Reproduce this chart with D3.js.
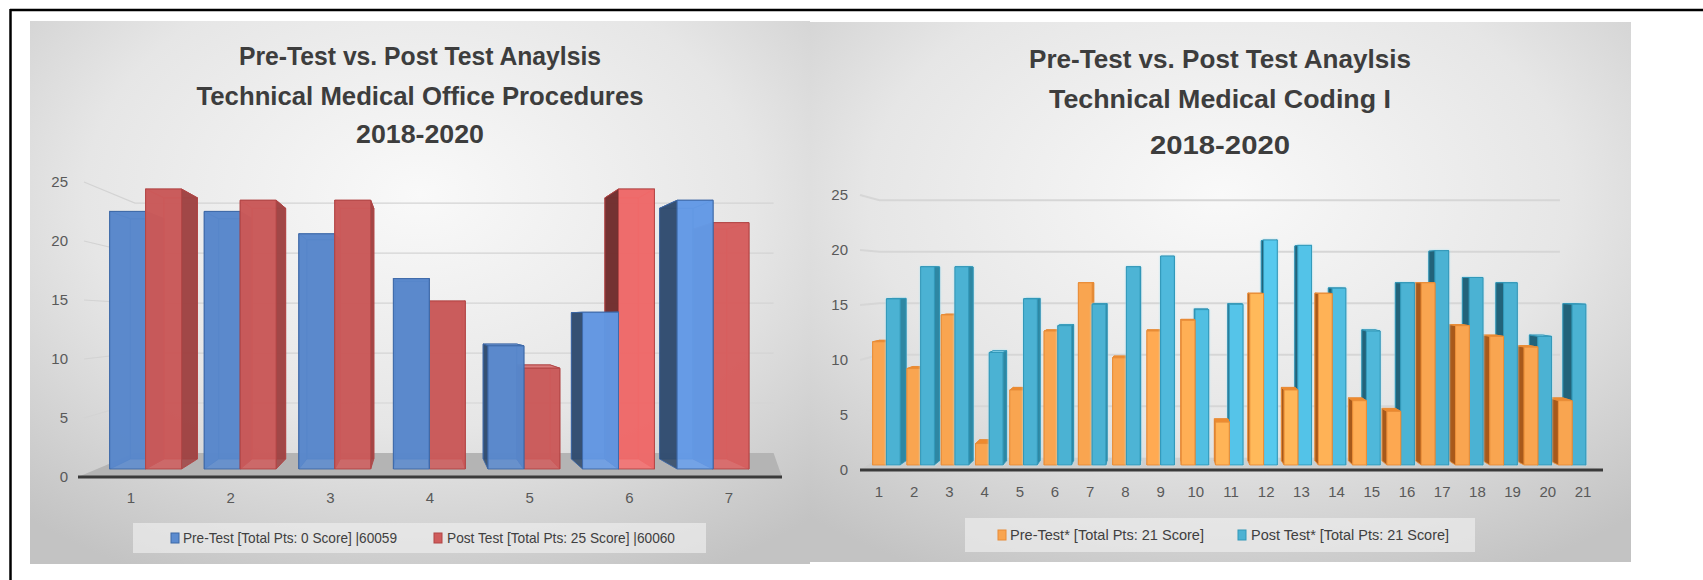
<!DOCTYPE html>
<html>
<head>
<meta charset="utf-8">
<script src="https://cdn.jsdelivr.net/npm/d3@7"></script>
<style>
html, body { margin: 0; padding: 0; background: #fff; }
svg { display: block; }
text { font-family: "Liberation Sans Narrow", "Arial Narrow", "Liberation Sans", sans-serif; }
</style>
</head>
<body>
<svg id="chart" width="1703" height="580"></svg>
<script>
// left chart - Technical Medical Office Procedures
const officeCategories = ["1", "2", "3", "4", "5", "6", "7"];
const officePre = [23, 23, 21, 17, 11, 14, 24];
const officePost = [25, 24, 24, 15, 9, 25, 22];
const officeTicks = [0, 5, 10, 15, 20, 25];
const officeTitle = ["Pre-Test vs. Post Test Anaylsis", "Technical Medical Office Procedures", "2018-2020"];
const officeLegend = ["Pre-Test [Total Pts: 0 Score] |60059", "Post Test [Total Pts: 25 Score] |60060"];

// right chart - Technical Medical Coding I
const codingCategories = ["1", "2", "3", "4", "5", "6", "7", "8", "9", "10", "11",
                          "12", "13", "14", "15", "16", "17", "18", "19", "20", "21"];
const codingPre = [11.5, 9, 14, 2, 7, 12.5, 17, 10, 12.5, 13.5, 4, 16, 7, 16, 6, 5, 17, 13, 12, 11, 6];
const codingPost = [15.5, 18.5, 18.5, 10.5, 15.5, 13, 15, 18.5, 19.5, 14.5, 15, 21, 20.5, 16.5, 12.5, 17, 20, 17.5, 17, 12, 15];
const codingTicks = [0, 5, 10, 15, 20, 25];
const codingTitle = ["Pre-Test vs. Post Test Anaylsis", "Technical Medical Coding I", "2018-2020"];
const codingLegend = ["Pre-Test* [Total Pts: 21 Score]", "Post Test* [Total Pts: 21 Score]"];

const svg = d3.select("#chart");
const defs = svg.append("defs");

// the cropped frame round the picture
svg.append("line").attr("x1", 10).attr("y1", 10).attr("x2", 1703).attr("y2", 10)
    .attr("stroke", "#000").attr("stroke-width", 2.5);
svg.append("line").attr("x1", 10.5).attr("y1", 9).attr("x2", 10.5).attr("y2", 580)
    .attr("stroke", "#000").attr("stroke-width", 2.5);

const glow = defs.append("filter").attr("id", "tealGlow")
    .attr("x", "-30%").attr("y", "-10%").attr("width", "160%").attr("height", "120%");
glow.append("feDropShadow").attr("dx", 0).attr("dy", 0).attr("stdDeviation", 1.3)
    .attr("flood-color", "#aee6f5").attr("flood-opacity", 0.9);

function drawChart(cfg) {
    const g = svg.append("g");
    // simple one point perspective: s = 1 is the front plane of the axes
    const P = (x, y, s) => [cfg.vp.x + (x - cfg.vp.x) * s, cfg.vp.y + (y - cfg.vp.y) * s];
    const line = d3.line();

    // panel background
    const grad = defs.append("radialGradient").attr("id", cfg.id + "Bg")
        .attr("cx", "50%").attr("cy", "32%").attr("r", "78%");
    grad.append("stop").attr("offset", "0%").attr("stop-color", "#f9f9f9");
    grad.append("stop").attr("offset", "55%").attr("stop-color", "#e6e6e6");
    grad.append("stop").attr("offset", "100%").attr("stop-color", "#c3c3c3");
    g.append("rect").attr("x", cfg.panel[0]).attr("y", cfg.panel[1])
        .attr("width", cfg.panel[2]).attr("height", cfg.panel[3])
        .attr("fill", `url(#${cfg.id}Bg)`);

    // title
    cfg.title.forEach((t, i) => {
        g.append("text").attr("x", cfg.titleX).attr("y", cfg.titleY[i])
            .attr("text-anchor", "middle").attr("font-size", 26).attr("font-weight", "bold")
            .attr("fill", "#3d3d3d")
            .attr("textLength", cfg.titleLen[i]).attr("lengthAdjust", "spacingAndGlyphs")
            .text(t);
    });

    const x = d3.scaleBand().domain(cfg.categories).range(cfg.xRange)
        .paddingInner(cfg.pad).paddingOuter(cfg.pad / 2);
    const xs = d3.scaleBand().domain(["pre", "post"]).range([0, x.bandwidth()]);
    const y = d3.scaleLinear().domain([0, 25]).range(cfg.yRange);

    // side wall + back wall gridlines
    cfg.ticks.filter(v => v > 0).forEach(v => {
        g.append("path")
            .attr("d", line([P(cfg.wallX[0], y(v), 1), P(cfg.wallX[0], y(v), cfg.wall), P(cfg.wallX[1], y(v), cfg.wall)]))
            .attr("fill", "none").attr("stroke", cfg.gridColor).attr("stroke-width", cfg.gridWidth);
    });

    // floor
    g.append("path")
        .attr("d", line([P(cfg.floorX[0], y(0), 1), P(cfg.floorX[1], y(0), 1),
                         P(cfg.wallX[1], y(0), cfg.wall), P(cfg.wallX[0], y(0), cfg.wall)]) + "Z")
        .attr("fill", cfg.floorColor).attr("fill-opacity", cfg.floorOpacity);
    g.append("line").attr("x1", cfg.floorX[0]).attr("x2", cfg.floorX[1])
        .attr("y1", y(0)).attr("y2", y(0)).attr("stroke", "#3a3a3a").attr("stroke-width", 3);

    // value axis labels
    cfg.ticks.forEach(v => {
        g.append("text").attr("x", cfg.tickX).attr("y", y(v)).attr("dy", "0.35em")
            .attr("text-anchor", "end").attr("font-size", 15).attr("fill", "#595959").text(v);
    });
    // category labels
    cfg.categories.forEach(c => {
        g.append("text").attr("x", x(c) + x.bandwidth() / 2).attr("y", cfg.catY)
            .attr("text-anchor", "middle").attr("font-size", 15).attr("fill", "#595959").text(c);
    });

    // bars, farthest from the vanishing point first
    const bars = [];
    cfg.categories.forEach((c, i) => {
        bars.push({ x0: x(c) + xs("pre"), v: cfg.pre[i], col: cfg.colors.pre, glow: false });
        bars.push({ x0: x(c) + xs("post"), v: cfg.post[i], col: cfg.colors.post, glow: cfg.glowPost });
    });
    bars.forEach(b => { b.x1 = b.x0 + xs.bandwidth(); b.cx = (b.x0 + b.x1) / 2; });
    bars.sort((a, b) => Math.abs(b.cx - cfg.vp.x) - Math.abs(a.cx - cfg.vp.x));

    bars.forEach(b => {
        const y0 = y(0), y1 = y(b.v), f = cfg.barFront, k = cfg.barBack;
        const F = [P(b.x0, y1, f), P(b.x1, y1, f), P(b.x1, y0, f), P(b.x0, y0, f)];
        const B = [P(b.x0, y1, k), P(b.x1, y1, k), P(b.x1, y0, k), P(b.x0, y0, k)];
        const leftFace = [F[0], B[0], B[3], F[3]];
        const rightFace = [F[1], B[1], B[2], F[2]];
        const topFace = [F[0], F[1], B[1], B[0]];
        const light = Math.max(0, 1 - Math.abs(b.cx - cfg.light.x) / cfg.light.range) * cfg.light.k;
        const front = d3.color(b.col.front).brighter(light);
        const leftOfVp = b.cx < cfg.vp.x;
        const faces = [
            { pts: B, fill: b.col.side },
            { pts: leftOfVp ? leftFace : rightFace, fill: b.col.side },
            { pts: topFace, fill: y1 > cfg.vp.y ? b.col.top : b.col.side },
            { pts: leftOfVp ? rightFace : leftFace, fill: leftOfVp ? b.col.side : b.col.dark },
            { pts: F, fill: front }
        ];
        const bg = g.append("g");
        if (b.glow) bg.attr("filter", "url(#tealGlow)");
        faces.forEach(fc => {
            bg.append("path").attr("d", line(fc.pts) + "Z")
                .attr("fill", fc.fill).attr("fill-opacity", cfg.barOpacity)
                .attr("stroke", b.col.stroke).attr("stroke-width", 0.9).attr("stroke-linejoin", "round");
        });
    });

    // legend
    const lg = cfg.legend;
    g.append("rect").attr("x", lg.box[0]).attr("y", lg.box[1]).attr("width", lg.box[2]).attr("height", lg.box[3])
        .attr("fill", "#ececec").attr("fill-opacity", 0.7);
    [cfg.colors.pre, cfg.colors.post].forEach((col, i) => {
        g.append("rect").attr("x", lg.swatchX[i]).attr("y", lg.cy - 5).attr("width", 8).attr("height", 10)
            .attr("fill", col.front).attr("stroke", col.stroke).attr("stroke-width", 1);
        g.append("text").attr("x", lg.textX[i]).attr("y", lg.cy).attr("dy", "0.35em")
            .attr("font-size", 15).attr("fill", "#404040")
            .attr("textLength", lg.textLen[i]).attr("lengthAdjust", "spacingAndGlyphs")
            .text(cfg.legendLabels[i]);
    });
}

drawChart({
    id: "office",
    panel: [30, 21, 780, 543],
    title: officeTitle, titleX: 420, titleY: [65, 105, 143], titleLen: [362, 447, 128],
    categories: officeCategories, pre: officePre, post: officePost, ticks: officeTicks,
    xRange: [81.2, 778.8], pad: 0.24, yRange: [477, 182],
    vp: { x: 417, y: 320 }, barFront: 0.949, barBack: 0.885, wall: 0.847,
    wallX: [84, 838], floorX: [78, 782],
    gridColor: "#d3d3d3", gridWidth: 1.2, floorColor: "#b4b4b4", floorOpacity: 1,
    tickX: 68, catY: 503,
    barOpacity: 0.86,
    light: { x: 665, range: 120, k: 0.6 },
    colors: {
        pre: { front: "#5b8bcf", side: "#4670ad", dark: "#2f4868", top: "#7aa3dc", stroke: "#3d68a6" },
        post: { front: "#cf5c5c", side: "#a04444", dark: "#6b2b2b", top: "#e08080", stroke: "#b14545" }
    },
    glowPost: false,
    legendLabels: officeLegend,
    legend: { box: [133, 523, 573, 30], swatchX: [171, 434], textX: [183, 447], textLen: [214, 228], cy: 538 }
});

drawChart({
    id: "coding",
    panel: [810, 22, 821, 540],
    title: codingTitle, titleX: 1220, titleY: [68, 108, 154], titleLen: [382, 342, 140],
    categories: codingCategories, pre: codingPre, post: codingPost, ticks: codingTicks,
    xRange: [861.4, 1600.6], pad: 0.2, yRange: [470, 195],
    vp: { x: 1164, y: 277 }, barFront: 0.974, barBack: 0.952, wall: 0.936,
    wallX: [860, 1587], floorX: [860, 1603],
    gridColor: "#d6d6d6", gridWidth: 2, floorColor: "#c9c9c9", floorOpacity: 0.7,
    tickX: 848, catY: 497,
    barOpacity: 1,
    light: { x: 1270, range: 150, k: 0.35 },
    colors: {
        pre: { front: "#f9a550", side: "#d8842f", dark: "#a8591a", top: "#ee8a2e", stroke: "#e88c38" },
        post: { front: "#4cb2d3", side: "#2e87a3", dark: "#22637a", top: "#8fd8ef", stroke: "#3297b8" }
    },
    glowPost: true,
    legendLabels: codingLegend,
    legend: { box: [965, 518, 510, 34], swatchX: [998, 1238], textX: [1010, 1251], textLen: [194, 198], cy: 535 }
});
</script>
</body>
</html>
